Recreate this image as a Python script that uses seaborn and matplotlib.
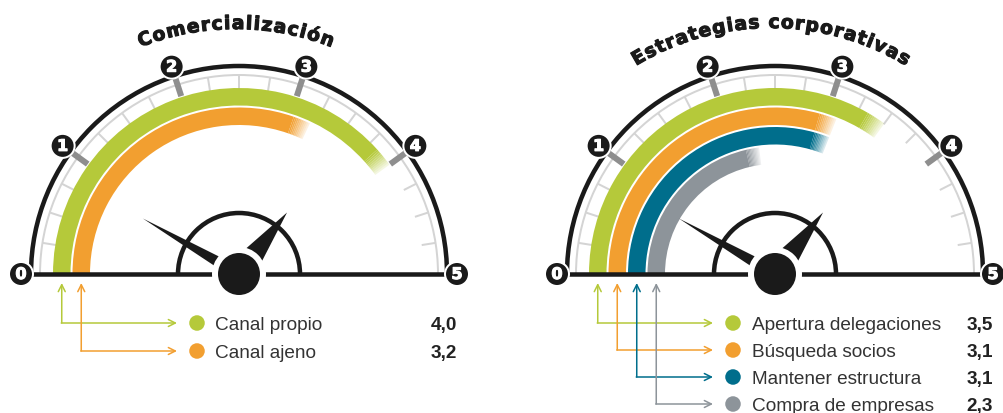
import numpy as np
import pandas as pd
import matplotlib
matplotlib.use("Agg")
import matplotlib.pyplot as plt
import matplotlib.patheffects as pe
import seaborn as sns
from matplotlib.patches import Wedge, Circle, Arc, Polygon

# ---------------- data ----------------
title_left = "Comercialización"
title_right = "Estrategias corporativas"
left_labels = ["Canal propio", "Canal ajeno"]
left_values = [4.0, 3.2]
left_colors = ["#B5C93A", "#F29F30"]
right_labels = ["Apertura delegaciones", "Búsqueda socios", "Mantener estructura", "Compra de empresas"]
right_values = [3.5, 3.1, 3.1, 2.3]
right_colors = ["#B5C93A", "#F29F30", "#006E8C", "#8D949A"]
scale_ticks = [0, 1, 2, 3, 4, 5]
scale_max = 5

# ---------------- setup ----------------
W, H = 1004, 414
PT = 0.72  # pixels -> points at dpi 100
sns.set_theme(style="white")
plt.rcParams['font.family'] = ['Liberation Sans', 'DejaVu Sans']
fig = plt.figure(figsize=(W / 100, H / 100), dpi=100)
ax = fig.add_axes([0, 0, 1, 1])
ax.set_xlim(0, W)
ax.set_ylim(0, H)
ax.axis('off')
renderer = fig.canvas.get_renderer()
HEAVY = ['DejaVu Sans']
INK = '#1a1a1a'


def Y(ypx):
    return H - ypx


def ang(v):
    return 180.0 - 180.0 * v / scale_max


def polar(cx, cy, r, a):
    t = np.deg2rad(a)
    return cx + r * np.cos(t), cy + r * np.sin(t)


def text_width(s, **kw):
    t = ax.text(0, 0, s, **kw)
    w = t.get_window_extent(renderer).width
    t.remove()
    return w


def curved_title(cx, base_y, R, text, fs, span):
    kw = dict(fontsize=fs, fontweight='bold', family=HEAVY)
    xw = text_width("x", **kw)
    n = len(text)
    natural = text_width(text + "x", **kw) - xw
    track = (span - natural) / (n - 1)
    starts, widths = [], []
    for i, ch in enumerate(text):
        start = text_width(text[:i] + "x", **kw) - xw if i > 0 else 0.0
        starts.append(start + track * i)
        widths.append(text_width(ch + "x", **kw) - xw)
    total = natural + track * (n - 1)
    acx, acy = cx, base_y - R
    for i, ch in enumerate(text):
        if ch == " ":
            continue
        s = starts[i] + widths[i] / 2 - total / 2
        th = 90.0 - np.rad2deg(s / R)
        px, py = polar(acx, acy, R, th)
        ax.text(px, py, ch, ha='center', va='baseline', rotation=th - 90,
                rotation_mode='anchor', color=INK, zorder=10,
                path_effects=[pe.withStroke(linewidth=0.8, foreground=INK)], **kw)


def gauge(cx, cy, values, colors):
    # light gray ring and minor ticks
    ax.add_patch(Arc((cx, cy), 2 * 199, 2 * 199, theta1=0, theta2=180,
                     lw=2 * PT, color='#d4d4d4', zorder=1))
    for v in np.arange(0.25, scale_max, 0.25):
        if abs(v - round(v)) < 1e-6:
            continue
        x1, y1 = polar(cx, cy, 185, ang(v))
        x2, y2 = polar(cx, cy, 199, ang(v))
        ax.plot([x1, x2], [y1, y2], color='#d4d4d4', lw=2 * PT, zorder=1,
                solid_capstyle='butt')
    # bands
    for i, (v, c) in enumerate(zip(values, colors)):
        r_out = 186 - i * 19.5
        w = 17.5
        e = ang(v)
        fade = 6.0
        ax.add_patch(Wedge((cx, cy), r_out, e + fade, 180, width=w, color=c,
                           lw=0, zorder=2))
        steps = 10
        for k in range(steps):
            a_hi = e + fade * (1 - k / steps)
            a_lo = e + fade * (1 - (k + 1) / steps)
            alpha = 1 - (k + 0.5) / steps * 0.9
            ax.add_patch(Wedge((cx, cy), r_out, a_lo, a_hi, width=w, color=c,
                               alpha=alpha, lw=0, zorder=2))
    # major ticks
    for t in scale_ticks[1:-1]:
        x1, y1 = polar(cx, cy, 187, ang(t))
        x2, y2 = polar(cx, cy, 206, ang(t))
        ax.plot([x1, x2], [y1, y2], color='#8e8e8e', lw=6 * PT, zorder=3,
                solid_capstyle='butt')
    # outer black arc and baseline
    ax.add_patch(Arc((cx, cy), 2 * 208, 2 * 208, theta1=0, theta2=180,
                     lw=4.5 * PT, color=INK, zorder=4))
    ax.plot([cx - 218, cx + 218], [cy, cy], color=INK, lw=4.5 * PT,
            zorder=4, solid_capstyle='butt')
    # number badges
    for t in scale_ticks:
        px, py = polar(cx, cy, 218, ang(t))
        ax.add_patch(Circle((px, py), 12, facecolor=INK, edgecolor='white',
                            lw=2 * PT, zorder=5))
        ax.text(px, py - 0.5, str(t), color='white', fontsize=11.5, fontweight='bold',
                ha='center', va='center', family=HEAVY, zorder=6,
                path_effects=[pe.withStroke(linewidth=0.8, foreground='white')])
    # center decoration
    ax.add_patch(Arc((cx, cy), 2 * 61, 2 * 61, theta1=0, theta2=180,
                     lw=4.5 * PT, color=INK, zorder=6))
    for a, length, hw in [(150, 111, 5.5), (52, 78, 11)]:
        tip = polar(cx, cy, length, a)
        b1 = polar(cx, cy, 20, a)
        nx, ny = np.cos(np.deg2rad(a + 90)), np.sin(np.deg2rad(a + 90))
        poly = [(b1[0] + nx * hw, b1[1] + ny * hw), tip,
                (b1[0] - nx * hw, b1[1] - ny * hw)]
        ax.add_patch(Polygon(poly, closed=True, color=INK, lw=0, zorder=7))
    ax.add_patch(Circle((cx, cy), 27, color='white', lw=0, zorder=8))
    ax.add_patch(Circle((cx, cy), 21, color=INK, lw=0, zorder=9))


def legend(cx, cy, labels, values, colors, rows_px, x_end, dot_x, txt_x, val_x):
    n = len(values)
    dots = pd.DataFrame({"x": [dot_x] * n, "y": [Y(r) for r in rows_px],
                         "label": labels})
    sns.scatterplot(data=dots, x="x", y="y", hue="label", palette=colors,
                    s=125, edgecolor='none', legend=False, ax=ax, zorder=5)
    for i, (lab, v, c, r) in enumerate(zip(labels, values, colors, rows_px)):
        bx = cx - (186 - i * 19.5 - 17.5 / 2)
        ax.annotate("", xy=(bx, Y(284)), xytext=(bx, Y(r)),
                    arrowprops=dict(arrowstyle='->,head_length=0.5,head_width=0.25',
                                    color=c, lw=1.1, shrinkA=0, shrinkB=0,
                                    mutation_scale=10))
        ax.annotate("", xy=(x_end, Y(r)), xytext=(bx - 0.5, Y(r)),
                    arrowprops=dict(arrowstyle='->,head_length=0.5,head_width=0.25',
                                    color=c, lw=1.1, shrinkA=0, shrinkB=0,
                                    mutation_scale=10))
        ax.text(txt_x, Y(r), lab, fontsize=13.7, color='#333333',
                ha='left', va='center_baseline')
        ax.text(val_x, Y(r), f"{v:.1f}".replace('.', ','), fontsize=13.7,
                fontweight='bold', color='#222222', ha='right', va='center_baseline')


cyl = Y(275)
gauge(239, cyl, left_values, left_colors)
gauge(775, cyl, right_values, right_colors)
curved_title(236, Y(30), 260, title_left, 13.5, 196)
curved_title(771, Y(29), 260, title_right, 13.5, 284)
legend(239, cyl, left_labels, left_values, left_colors, [324, 352], 177, 197, 215, 457)
legend(775, cyl, right_labels, right_values, right_colors, [324, 351, 378, 405],
       713, 733, 752, 993)

ax.set_xlim(0, W)
ax.set_ylim(0, H)
ax.set_xlabel("")
ax.set_ylabel("")
fig.savefig("out.png", dpi=100, facecolor='white')
